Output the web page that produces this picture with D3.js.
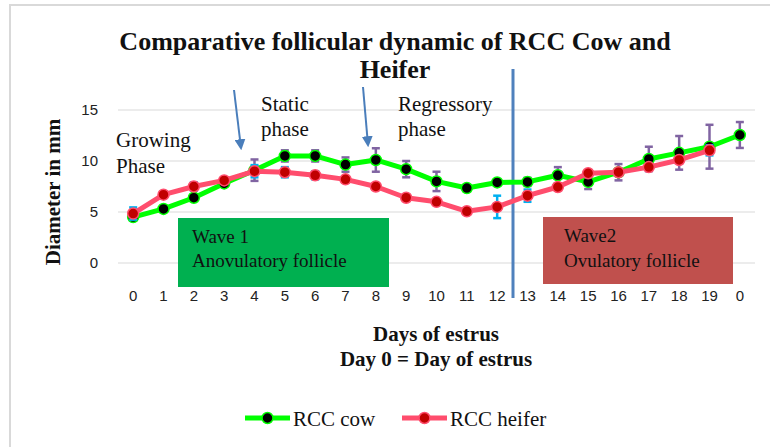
<!DOCTYPE html>
<html>
<head>
<meta charset="utf-8">
<script src="https://d3js.org/d3.v7.min.js"></script>
<style>
  body { margin: 0; background: #fff; }
  svg { display: block; }
</style>
</head>
<body>
<div id="chart"></div>
<script>
// x categories (day of estrus, last one is next estrus = day 0)
const days = ["0","1","2","3","4","5","6","7","8","9","10","11","12","13","14","15","16","17","18","19","0"];
const yTicks = [0, 5, 10, 15];

// follicle diameter (mm)
const cow    = [4.5, 5.3, 6.4, 7.8, 9.1, 10.5, 10.5, 9.65, 10.1, 9.2, 8.0, 7.35, 7.9, 7.95, 8.6, 7.95, 8.9, 10.2, 10.8, 11.4, 12.55];
const heifer = [4.85, 6.7, 7.5, 8.1, 9.0, 8.9, 8.6, 8.2, 7.5, 6.4, 6.0, 5.07, 5.5, 6.6, 7.45, 8.8, 8.9, 9.4, 10.1, 11.05, null];

// error bars (+/- mm)
const cowErr    = [0.3, 0.2, 0.3, 0.3, 1.05, 0.55, 0.55, 0.7, 1.15, 0.8, 0.95, 0, 0, 0.4, 0.8, 0.7, 0.8, 1.2, 1.65, 2.15, 1.27];
const heiferErr = [0.6, 0.2, 0.4, 0.3, 0.6, 0.5, 0.4, 0, 0, 0, 0, 0, 1.1, 0.6, 0, 0, 0, 0, 0, 0.5, 0];

const W = 770, H = 447;
const svg = d3.select("#chart").append("svg")
    .attr("width", W).attr("height", H);

// outer chart border
svg.append("rect")
    .attr("x", 10).attr("y", 5)
    .attr("width", W + 20).attr("height", H + 20)
    .attr("fill", "none").attr("stroke", "#d9d9d9").attr("stroke-width", 2);

const x = d3.scaleBand().domain(d3.range(days.length)).range([118, 755]);
const y = d3.scaleLinear().domain([0, 15]).range([263, 110]);
const cx = i => x(i) + x.bandwidth() / 2;

// gridlines
svg.append("g").selectAll("line").data(yTicks).join("line")
    .attr("x1", 118).attr("x2", 755)
    .attr("y1", d => y(d)).attr("y2", d => y(d))
    .attr("stroke", "#d9d9d9").attr("stroke-width", 1);

// y axis labels
const yAxis = svg.append("g")
    .attr("transform", "translate(108,0)")
    .call(d3.axisLeft(y).tickValues(yTicks).tickSize(0).tickPadding(10));
yAxis.select(".domain").remove();
yAxis.selectAll("text")
    .attr("font-family", "Liberation Sans, Arial, sans-serif")
    .attr("font-size", 15).attr("fill", "#222");

// x axis labels
const xAxis = svg.append("g")
    .attr("transform", "translate(0,286)")
    .call(d3.axisBottom(x).tickFormat(i => days[i]).tickSize(0).tickPadding(4));
xAxis.select(".domain").remove();
xAxis.selectAll("text")
    .attr("font-family", "Liberation Sans, Arial, sans-serif")
    .attr("font-size", 15).attr("fill", "#222");

// wave boxes
const serif = "Liberation Serif, Times New Roman, serif";
svg.append("rect").attr("x", 178).attr("y", 218).attr("width", 211).attr("height", 69)
    .attr("fill", "#00b050");
svg.append("rect").attr("x", 543).attr("y", 217).attr("width", 190).attr("height", 67)
    .attr("fill", "#c0504d");
const boxText = [
  { t: "Wave 1", x: 192, y: 243 },
  { t: "Anovulatory follicle", x: 192, y: 267 },
  { t: "Wave2", x: 564, y: 242 },
  { t: "Ovulatory follicle", x: 564, y: 267 }
];
svg.append("g").selectAll("text").data(boxText).join("text")
    .attr("x", d => d.x).attr("y", d => d.y)
    .attr("font-family", serif).attr("font-size", 19).attr("fill", "#111")
    .text(d => d.t);

// cycle divider line
svg.append("line").attr("x1", 513).attr("x2", 513).attr("y1", 69).attr("y2", 298)
    .attr("stroke", "#4f81bd").attr("stroke-width", 3);

// phase annotations
const notes = [
  { t: "Growing", x: 116, y: 147 },
  { t: "Phase", x: 116, y: 173 },
  { t: "Static", x: 261, y: 111 },
  { t: "phase", x: 261, y: 136 },
  { t: "Regressory", x: 398, y: 111 },
  { t: "phase", x: 398, y: 136 }
];
svg.append("g").selectAll("text").data(notes).join("text")
    .attr("x", d => d.x).attr("y", d => d.y)
    .attr("font-family", serif).attr("font-size", 21).attr("fill", "#111")
    .text(d => d.t);

// arrows
const defs = svg.append("defs");
defs.append("marker").attr("id", "arr")
    .attr("viewBox", "0 0 10 10").attr("refX", 8).attr("refY", 5)
    .attr("markerWidth", 5.5).attr("markerHeight", 5.5).attr("orient", "auto")
    .append("path").attr("d", "M0,0L10,5L0,10z").attr("fill", "#4a7ebb");
const arrows = [[234, 90, 241, 148], [363, 87, 368, 145]];
svg.append("g").selectAll("line").data(arrows).join("line")
    .attr("x1", d => d[0]).attr("y1", d => d[1])
    .attr("x2", d => d[2]).attr("y2", d => d[3])
    .attr("stroke", "#4a7ebb").attr("stroke-width", 2)
    .attr("marker-end", "url(#arr)");

// series
function drawSeries(vals, errs, lineColor, fill, errColor) {
  const idx = d3.range(vals.length).filter(i => vals[i] != null);
  const g = svg.append("g");
  g.append("path").datum(idx)
      .attr("d", d3.line().x(i => cx(i)).y(i => y(vals[i])))
      .attr("fill", "none").attr("stroke", lineColor).attr("stroke-width", 5)
      .attr("stroke-linejoin", "round");
  const eb = g.append("g").selectAll("g").data(idx.filter(i => errs[i] > 0)).join("g")
      .attr("stroke", errColor).attr("stroke-width", 2.5);
  eb.append("line").attr("x1", cx).attr("x2", cx)
      .attr("y1", i => y(vals[i] + errs[i])).attr("y2", i => y(vals[i] - errs[i]));
  eb.append("line").attr("x1", i => cx(i) - 4).attr("x2", i => cx(i) + 4)
      .attr("y1", i => y(vals[i] + errs[i])).attr("y2", i => y(vals[i] + errs[i]));
  eb.append("line").attr("x1", i => cx(i) - 4).attr("x2", i => cx(i) + 4)
      .attr("y1", i => y(vals[i] - errs[i])).attr("y2", i => y(vals[i] - errs[i]));
  g.append("g").selectAll("circle").data(idx).join("circle")
      .attr("cx", cx).attr("cy", i => y(vals[i])).attr("r", 5.5)
      .attr("fill", fill).attr("stroke", lineColor).attr("stroke-width", 1.5);
}
drawSeries(cow, cowErr, "#00ff00", "#000000", "#8064a2");
drawSeries(heifer, heiferErr, "#ff4d6d", "#c00000", "#00b0f0");

// title
svg.append("g").selectAll("text")
    .data(["Comparative follicular dynamic of RCC Cow and", "Heifer"]).join("text")
    .attr("x", 395).attr("y", (d, i) => 50 + i * 28)
    .attr("text-anchor", "middle")
    .attr("font-family", serif).attr("font-weight", "bold").attr("font-size", 26)
    .attr("fill", "#111").text(d => d);

// axis titles
svg.append("text")
    .attr("transform", "translate(60,192) rotate(-90)")
    .attr("text-anchor", "middle")
    .attr("font-family", serif).attr("font-weight", "bold").attr("font-size", 21)
    .attr("fill", "#111").text("Diameter in mm");
svg.append("g").selectAll("text")
    .data(["Days of estrus", "Day 0 = Day of estrus"]).join("text")
    .attr("x", 436).attr("y", (d, i) => 341 + i * 25)
    .attr("text-anchor", "middle")
    .attr("font-family", serif).attr("font-weight", "bold").attr("font-size", 21)
    .attr("fill", "#111").text(d => d);

// legend
const legend = [
  { name: "RCC cow", line: "#00ff00", fill: "#000000", x: 245 },
  { name: "RCC heifer", line: "#ff4d6d", fill: "#c00000", x: 402 }
];
const lg = svg.append("g").selectAll("g").data(legend).join("g")
    .attr("transform", d => `translate(${d.x},418)`);
lg.append("line").attr("x1", 0).attr("x2", 45)
    .attr("stroke", d => d.line).attr("stroke-width", 5);
lg.append("circle").attr("cx", 22.5).attr("r", 5.5)
    .attr("fill", d => d.fill).attr("stroke", d => d.line).attr("stroke-width", 1.5);
lg.append("text").attr("x", 48).attr("y", 8)
    .attr("font-family", serif).attr("font-size", 21).attr("fill", "#111")
    .text(d => d.name);
</script>
</body>
</html>
